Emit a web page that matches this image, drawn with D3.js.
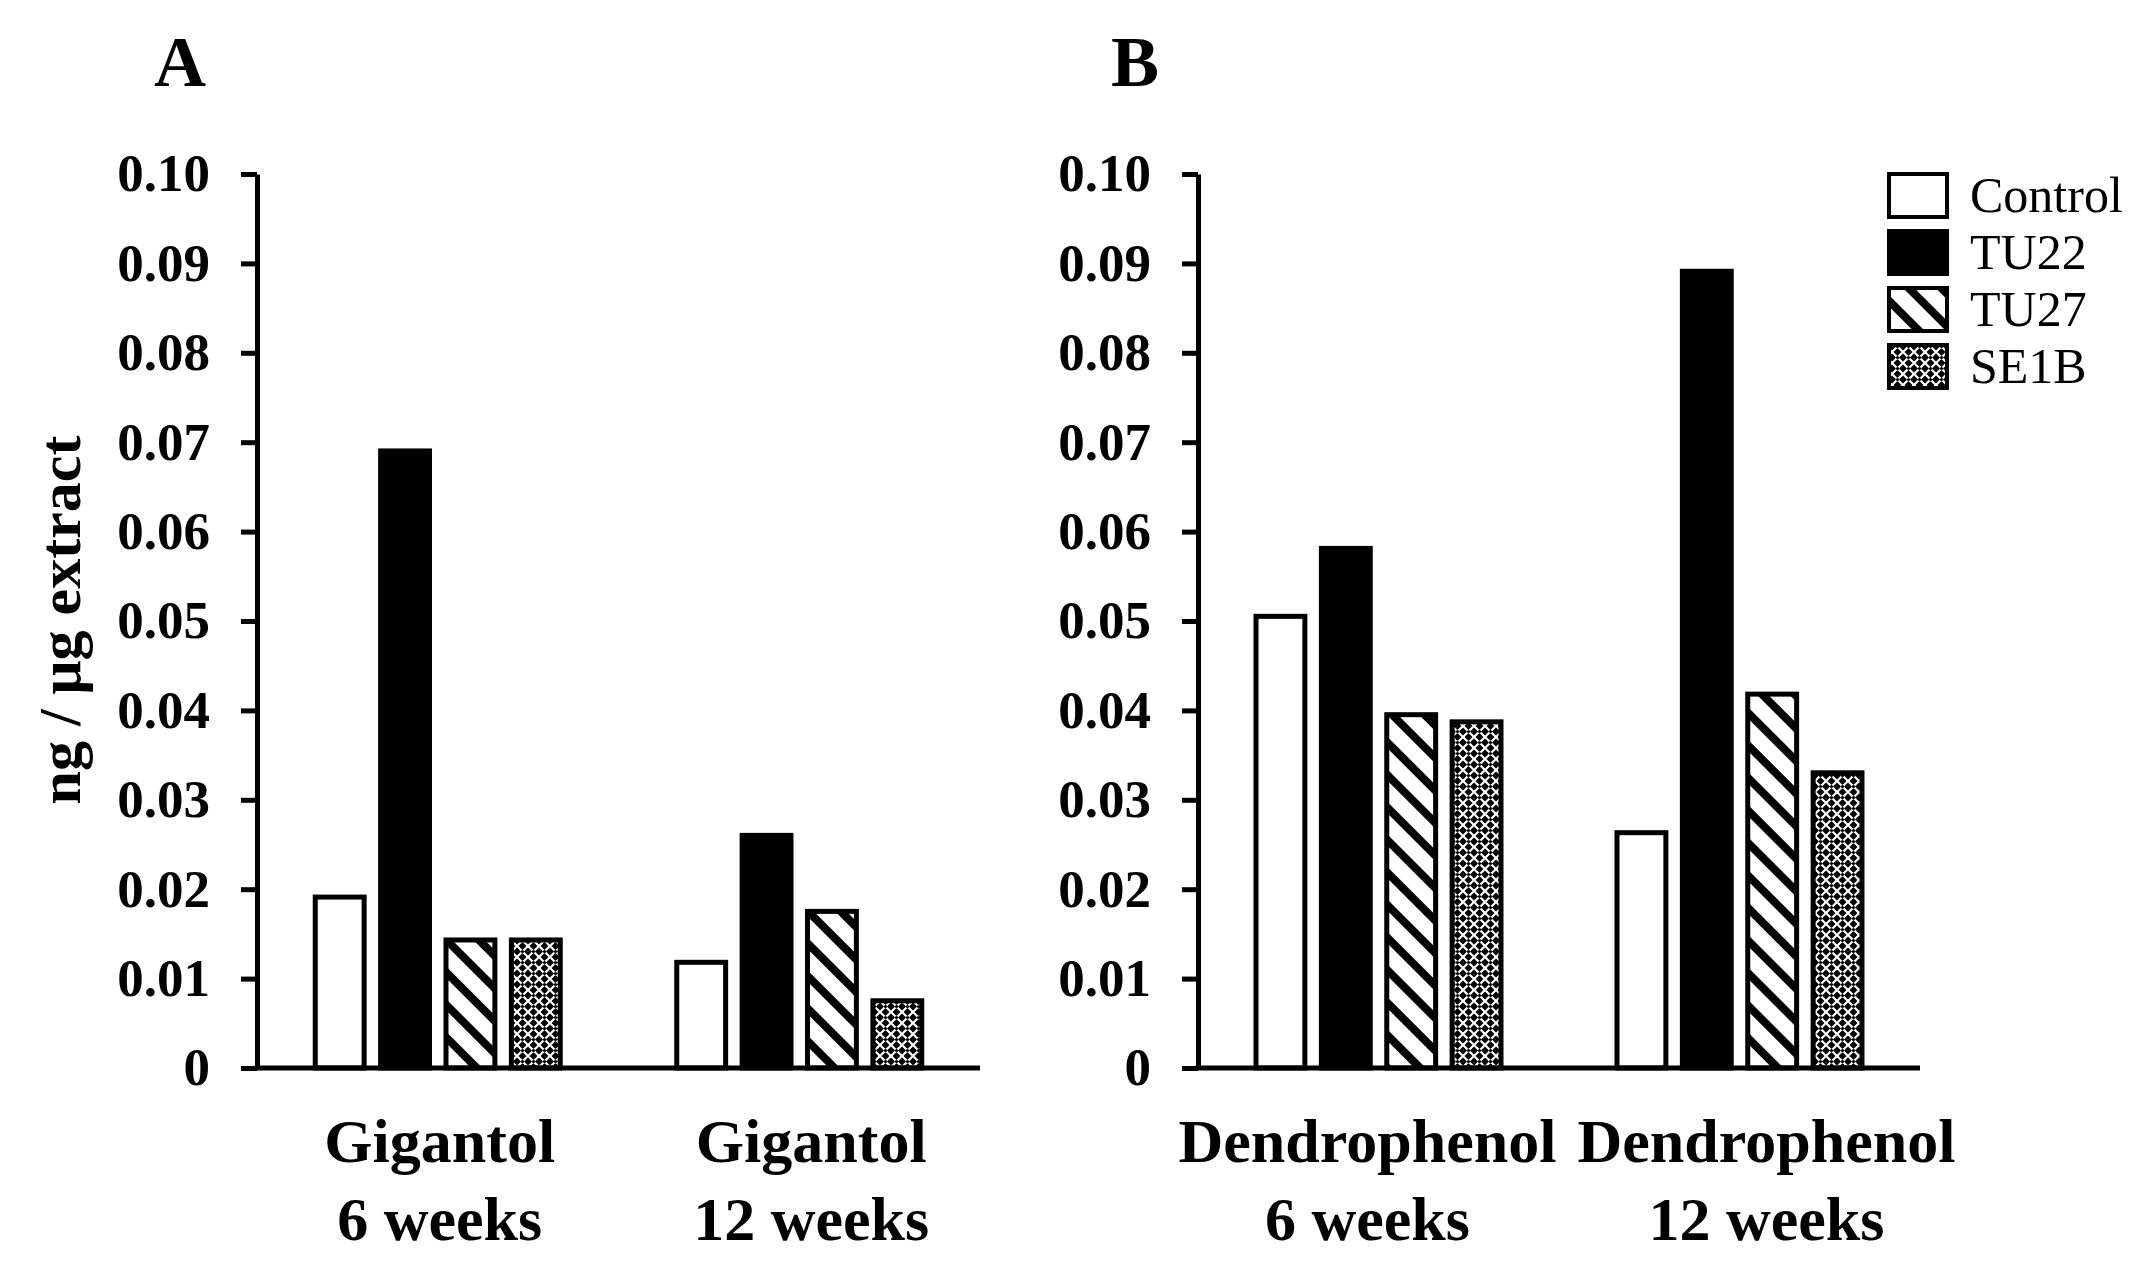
<!DOCTYPE html>
<html><head><meta charset="utf-8">
<script src="https://cdn.jsdelivr.net/npm/d3@7"></script>
<style>body{margin:0;background:#fff} text{font-family:"Liberation Serif","Times New Roman",serif;fill:#000}</style>
</head>
<body><svg id="c" width="2148" height="1261"></svg>
<script>
// ---- data ----
const series = ["Control", "TU22", "TU27", "SE1B"];
const panelA_categories = [["Gigantol", "6 weeks"], ["Gigantol", "12 weeks"]];
const panelB_categories = [["Dendrophenol", "6 weeks"], ["Dendrophenol", "12 weeks"]];
const panelA_values = [[0.0194, 0.0693, 0.0146, 0.0146], [0.0121, 0.0263, 0.0178, 0.0078]];
const panelB_values = [[0.0508, 0.0584, 0.0398, 0.0390], [0.0266, 0.0894, 0.0421, 0.0333]];
const yTicks = [0, 0.01, 0.02, 0.03, 0.04, 0.05, 0.06, 0.07, 0.08, 0.09, 0.10];
const yTickLabels = ["0", "0.01", "0.02", "0.03", "0.04", "0.05", "0.06", "0.07", "0.08", "0.09", "0.10"];
const panelLetters = ["A", "B"];
const yAxisTitle = "ng / \u03bcg extract";

// ---- drawing ----
const svg = d3.select("#c");
svg.append("rect").attr("width", 2148).attr("height", 1261).attr("fill", "#fff");

const defs = svg.append("defs");
const hatch = defs.append("pattern").attr("id", "hatch").attr("patternUnits", "userSpaceOnUse")
  .attr("width", 23).attr("height", 23).attr("patternTransform", "rotate(45)");
hatch.append("rect").attr("width", 23).attr("height", 23).attr("fill", "#fff");
hatch.append("rect").attr("y", 0).attr("width", 23).attr("height", 8).attr("fill", "#000");

const dots = defs.append("pattern").attr("id", "dots").attr("patternUnits", "userSpaceOnUse")
  .attr("width", 11).attr("height", 11);
dots.append("rect").attr("width", 11).attr("height", 11).attr("fill", "#000");
dots.append("path").attr("d", "M0,0L11,11M11,0L0,11").attr("stroke", "#fff").attr("stroke-width", 2.2);
dots.append("circle").attr("cx", 5.5).attr("cy", 5.5).attr("r", 1.6).attr("fill", "#000");

const fills = {Control: "#fff", TU22: "#000", TU27: "url(#hatch)", SE1B: "url(#dots)"};

const y = d3.scaleLinear().domain([0, 0.10]).range([1068, 174]);
const SW = 5;

function panel(axisX, axisEnd, cats, vals, letter, letterX, labelShift) {
  const g = svg.append("g");
  const x0 = d3.scaleBand().domain(d3.range(cats.length)).range([axisX, axisEnd]).padding(0);
  const x1 = d3.scaleBand().domain(series).range([-125, 125]).paddingInner(0.176).paddingOuter(0);

  cats.forEach((c, gi) => {
    const cx = x0(gi) + x0.bandwidth() / 2;
    series.forEach((s, si) => {
      const v = vals[gi][si];
      g.append("rect")
        .attr("x", cx + x1(s) + SW / 2)
        .attr("y", y(v) + SW / 2)
        .attr("width", x1.bandwidth() - SW)
        .attr("height", y(0) - y(v) - SW / 2)
        .attr("fill", fills[s])
        .attr("stroke", "#000")
        .attr("stroke-width", SW);
    });
    const lx = cx + labelShift[gi];
    const t = g.append("text").attr("x", lx).attr("text-anchor", "middle")
      .attr("font-size", 62).attr("font-weight", "bold");
    t.append("tspan").attr("x", lx).attr("y", 1162).text(c[0]);
    t.append("tspan").attr("x", lx).attr("y", 1240).text(c[1]);
  });

  const ya = g.append("g").attr("transform", `translate(${axisX},0)`)
    .call(d3.axisLeft(y).tickValues(yTicks).tickFormat((d, i) => yTickLabels[i])
      .tickSize(16).tickSizeOuter(0).tickPadding(31));
  ya.selectAll("path,line").attr("stroke", "#000").attr("stroke-width", SW);
  ya.selectAll("text").attr("font-size", 53).attr("font-weight", "bold")
    .attr("font-family", "'Liberation Serif','Times New Roman',serif").attr("fill", "#000");

  const xa = g.append("g").attr("transform", `translate(0,${y(0)})`)
    .call(d3.axisBottom(x0).tickSize(0).tickSizeOuter(0).tickFormat(""));
  xa.select(".domain").attr("stroke", "#000").attr("stroke-width", SW)
    .attr("d", `M${axisX - 2.5},0H${axisEnd}`);
  xa.selectAll(".tick").remove();

  g.append("text").attr("x", letterX).attr("y", 86).attr("text-anchor", "middle")
    .attr("font-size", 72).attr("font-weight", "bold").text(letter);
}

panel(257, 980, panelA_categories, panelA_values, panelLetters[0], 180, [2, 12]);
panel(1198, 1920, panelB_categories, panelB_values, panelLetters[1], 1135, [-11, 27]);

svg.append("text").attr("transform", "translate(80,620) rotate(-90)")
  .attr("text-anchor", "middle").attr("font-size", 60).attr("font-weight", "bold").text(yAxisTitle);

const leg = svg.append("g");
series.forEach((s, i) => {
  const top = 174 + i * 57;
  leg.append("rect").attr("x", 1889).attr("y", top).attr("width", 58).attr("height", 43)
    .attr("fill", fills[s]).attr("stroke", "#000").attr("stroke-width", 4);
  leg.append("text").attr("x", 1970).attr("y", top + 21.5 + 16).attr("font-size", 50).text(s);
});
</script>
</body></html>
